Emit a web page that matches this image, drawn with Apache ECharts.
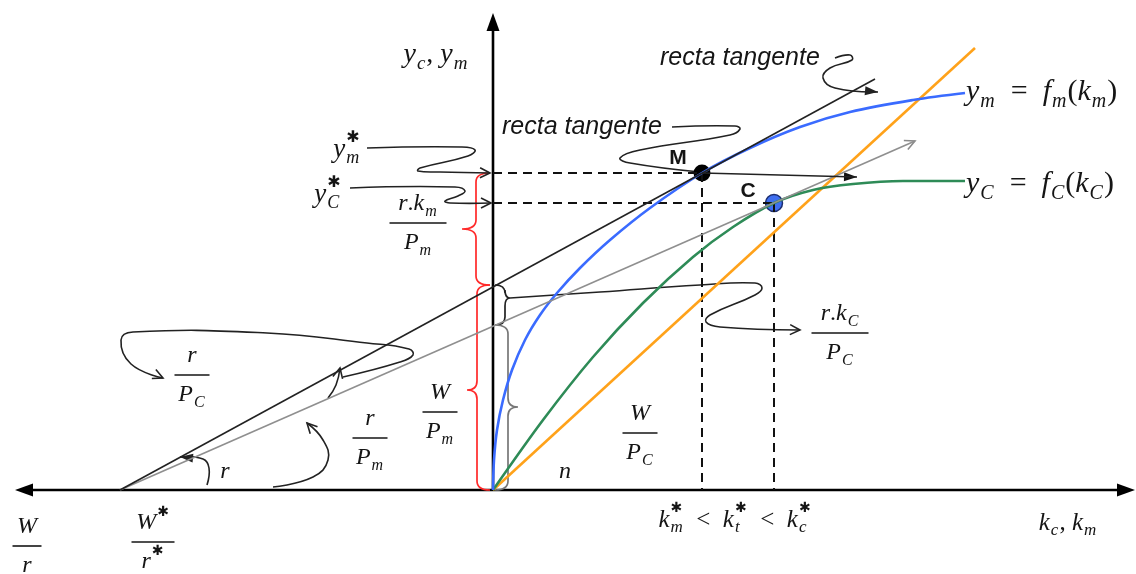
<!DOCTYPE html>
<html>
<head>
<meta charset="utf-8">
<script src="https://cdn.jsdelivr.net/npm/echarts@6/dist/echarts.min.js"></script>
<style>
  html, body { margin: 0; padding: 0; background: #fff; }
  #chart { width: 1136px; height: 574px; }
</style>
</head>
<body>
<div id="chart"></div>
<script>
// ---- model data (k on the horizontal axis, y on the vertical axis) ----
const fmCurve = [[0,0],[1,30],[4,60],[10,90],[19,120],[32,150],[47,175],[64,197],[87,222],[117,250],[157,282],[209,317],[257,342],[307,363],[357,378],[420,390],[472,397]];
const fcCurve = [[0,0],[50,70],[100,133],[150,187],[200,233],[240,263],[281,287],[320,300],[360,306],[410,309],[472,309]];
const costRay = [[0,0],[482,442]];
const wageIntercept = [-373,0];          // W*/r*
const optimumM = [209,317];
const optimumC = [281,287];
const tangentM = [wageIntercept,[382,411]];
const tangentC = [wageIntercept,[422,349]];
const mArrowEnd = [364,313];
const kExtent = [-478,642];
const yTop = 477;

// ---- annotation paths (data space) ----
const callouts = [
  {pts:[[-126,342],[-31,343],[-18,340],[-25,334],[-73,322],[-75,319],[-53,318],[-3,317]], head:'open', color:'#222'},
  {pts:[[-143,302],[-38,303],[-28,299],[-35,294],[-48,289],[-43,287],[-2,287]], head:'open', color:'#222'},
  {pts:[[179,363],[242,364],[247,361],[237,355],[147,340],[127,332],[137,327],[207,318]], head:null, color:'#222'},
  {pts:[[342,432],[357,435],[359,430],[337,422],[330,412],[342,402],[385,398]], head:'fill', color:'#222'},
  {pts:[[17,192],[107,198],[207,205],[262,207],[269,202],[262,195],[217,175],[213,168],[227,163],[307,160]], head:'open', color:'#222'},
  {pts:[[-165,92],[-157,105],[-153,122]], head:'open', color:'#222'},
  {pts:[[-150,113],[-93,128],[-80,135],[-84,141],[-126,147],[-226,157],[-360,158],[-372,150],[-362,126],[-330,112]], head:'open', color:'#222'},
  {pts:[[-286,5],[-284,22],[-290,31],[-313,33]], head:'fill', color:'#222'},
  {pts:[[-220,3],[-180,13],[-165,30],[-170,50],[-186,67]], head:'open', color:'#222'}
];
const braces = [
  {end:-3, y1:317, y2:205, spine:-17, tip:[-31,261], color:'#ff2a2a'},
  {end:-3, y1:205, y2:0,   spine:-16, tip:[-26,100], color:'#ff2a2a'},
  {end:2,  y1:205, y2:165, spine:12,  tip:[17,192],  color:'#222'},
  {end:2,  y1:165, y2:0,   spine:15,  tip:[25,83],   color:'#777'}
];

// ---- text (runs: i italic, u upright, s subscript, S star over subscript, p star superscript) ----
const labels = [
  {at:[-57,435], size:28, align:'center', runs:[['y','i'],['c','s'],[', ','u'],['y','i'],['m','s']]},
  {at:[-146,340], size:27, align:'center', runs:[['y','i'],['m','S']]},
  {at:[-165,295], size:27, align:'center', runs:[['y','i'],['C','S']]},
  {at:[473,398], size:30, align:'left', runs:[['y','i'],['m','s'],['  =  ','u'],['f','i'],['m','s'],['(','u'],['k','i'],['m','s'],[')','u']]},
  {at:[473,306], size:30, align:'left', runs:[['y','i'],['C','s'],['  =  ','u'],['f','i'],['C','s'],['(','u'],['k','i'],['C','s'],[')','u']]},
  {at:[-268,18], size:24, align:'center', runs:[['r','i']]},
  {at:[72,18], size:24, align:'center', runs:[['n','i']]},
  {at:[242,-30], size:25, align:'center', runs:[['k','i'],['m','S'],['  <  ','u'],['k','i'],['t','S'],['  <  ','u'],['k','i'],['c','S']]},
  {at:[575,-33], size:25, align:'center', runs:[['k','i'],['c','s'],[', ','u'],['k','i'],['m','s']]}
];
const fractions = [
  {at:[-75,267], size:24, bar:57, num:[['r','i'],['.','u'],['k','i'],['m','s']], den:[['P','i'],['m','s']]},
  {at:[347,157], size:24, bar:57, num:[['r','i'],['.','u'],['k','i'],['C','s']], den:[['P','i'],['C','s']]},
  {at:[-301,115], size:24, bar:35, num:[['r','i']], den:[['P','i'],['C','s']]},
  {at:[-53,78], size:24, bar:35, num:[['W','i']], den:[['P','i'],['m','s']]},
  {at:[-123,52], size:24, bar:35, num:[['r','i']], den:[['P','i'],['m','s']]},
  {at:[147,57], size:24, bar:35, num:[['W','i']], den:[['P','i'],['C','s']]},
  {at:[-466,-56], size:24, bar:29, num:[['W','i']], den:[['r','i']]},
  {at:[-340,-52], size:24, bar:43, num:[['W','i'],['','p']], den:[['r','i'],['','p']]}
];
const tangentNotes = [
  {at:[9,363], text:'recta tangente'},
  {at:[167,432], text:'recta tangente'}
];
const pointNotes = [
  {at:[185,332], text:'M'},
  {at:[255,299], text:'C'}
];

// ---- drawing helpers ----
const SERIF = "'Liberation Serif','DejaVu Serif',serif";
const SANS = "'Liberation Sans','DejaVu Sans',sans-serif";
const INK = '#151515';
const measureCtx = document.createElement('canvas').getContext('2d');
function measure(t, font) { measureCtx.font = font; return measureCtx.measureText(t).width; }

function layoutRuns(runs, size) {
  const out = [];
  let x = 0;
  const starFont = 'bold ' + Math.round(size * 0.58) + "px 'DejaVu Sans',sans-serif";
  for (const [t, k] of runs) {
    if (k === 'i' || k === 'u') {
      const font = (k === 'i' ? 'italic ' : '') + size + 'px ' + SERIF;
      out.push({t, font, x, dy: 0});
      x += measure(t, font);
    } else if (k === 's' || k === 'S') {
      const font = 'italic ' + Math.round(size * 0.68) + 'px ' + SERIF;
      const w = measure(t, font);
      out.push({t, font, x: x + 1, dy: size * 0.32});
      let adv = w + 2;
      if (k === 'S') {
        out.push({t: '\u2731', font: starFont, x: x + 1, dy: -size * 0.45});
        adv = Math.max(adv, measure('\u2731', starFont) + 2);
      }
      x += adv;
    } else if (k === 'p') {
      out.push({t: '\u2731', font: starFont, x: x + 1, dy: -size * 0.45});
      x += measure('\u2731', starFont) + 2;
    }
  }
  return {out, width: x};
}

function emitRuns(ch, runs, size, x0, yc, align) {
  const L = layoutRuns(runs, size);
  const sx = align === 'center' ? x0 - L.width / 2 : x0;
  for (const g of L.out) {
    ch.push({type: 'text', x: sx + g.x, y: yc + g.dy,
      style: {text: g.t, font: g.font, fill: INK, align: 'left', verticalAlign: 'middle'}});
  }
}

function arrowHead(p0, p1, kind, color) {
  const dx = p1[0] - p0[0], dy = p1[1] - p0[1];
  const d = Math.hypot(dx, dy) || 1;
  const ux = dx / d, uy = dy / d;
  const len = kind === 'open' ? 10 : 13, wid = kind === 'open' ? 10 : 9;
  const bx = p1[0] - ux * len, by = p1[1] - uy * len;
  const nx = -uy * wid / 2, ny = ux * wid / 2;
  const pts = [[bx + nx, by + ny], [p1[0], p1[1]], [bx - nx, by - ny]];
  if (kind === 'open') {
    return {type: 'polyline', shape: {points: pts}, style: {stroke: color, lineWidth: 1.6, fill: null}};
  }
  return {type: 'polygon', shape: {points: pts}, style: {fill: color}};
}

function axisArrow(api, from, to) {
  const a = api.coord(from), b = api.coord(to);
  const dx = b[0] - a[0], dy = b[1] - a[1];
  const d = Math.hypot(dx, dy);
  const ux = dx / d, uy = dy / d;
  const len = 18, wid = 13;
  const bx = b[0] - ux * len, by = b[1] - uy * len;
  return {type: 'polygon', shape: {points: [[bx - uy * wid / 2, by + ux * wid / 2], b, [bx + uy * wid / 2, by - ux * wid / 2]]},
    style: {fill: '#000'}};
}

function bracePath(api, b) {
  const top = api.coord([b.end, b.y1]);
  const bot = api.coord([b.end, b.y2]);
  const xs = api.coord([b.spine, 0])[0];
  const tip = api.coord(b.tip);
  const r = Math.min(9, (bot[1] - top[1]) / 5);
  const xe = top[0], y1 = top[1], y2 = bot[1], xt = tip[0], yt = tip[1];
  return 'M' + xe + ',' + y1 +
    ' Q' + xs + ',' + y1 + ' ' + xs + ',' + (y1 + r) +
    ' L' + xs + ',' + (yt - r) +
    ' Q' + xs + ',' + yt + ' ' + xt + ',' + yt +
    ' Q' + xs + ',' + yt + ' ' + xs + ',' + (yt + r) +
    ' L' + xs + ',' + (y2 - r) +
    ' Q' + xs + ',' + y2 + ' ' + xe + ',' + y2;
}

// one draw routine per overlay item
const overlay = [];
// axes with arrow tips
overlay.push(api => {
  const o = api.coord([0, 0]);
  const l = api.coord([kExtent[0], 0]), r = api.coord([kExtent[1], 0]), t = api.coord([0, yTop]);
  return {type: 'group', children: [
    {type: 'line', shape: {x1: l[0] + 10, y1: o[1], x2: r[0] - 10, y2: o[1]}, style: {stroke: '#000', lineWidth: 2.6}},
    {type: 'line', shape: {x1: o[0], y1: o[1], x2: t[0], y2: t[1] + 10}, style: {stroke: '#000', lineWidth: 2.6}},
    axisArrow(api, [0, 0], [kExtent[0], 0]),
    axisArrow(api, [0, 0], [kExtent[1], 0]),
    axisArrow(api, [0, 0], [0, yTop])
  ]};
});
// heads of the tangent rays
overlay.push(api => ({type: 'group', children: [
  arrowHead(api.coord(tangentC[0]), api.coord(tangentC[1]), 'open', '#8a8a8a'),
  arrowHead(api.coord(optimumM), api.coord(mArrowEnd), 'fill', '#111')
]}));
// braces
braces.forEach(b => overlay.push(api => ({type: 'path', shape: {pathData: bracePath(api, b)},
  style: {stroke: b.color, lineWidth: 1.7, fill: null}})));
// callout curves
callouts.forEach(c => overlay.push(api => {
  const pts = c.pts.map(p => api.coord(p));
  const ch = [{type: 'polyline', shape: {points: pts, smooth: 0.45}, style: {stroke: c.color, lineWidth: 1.6, fill: null}}];
  if (c.head) ch.push(arrowHead(pts[pts.length - 2], pts[pts.length - 1], c.head, c.color));
  return {type: 'group', children: ch};
}));
// optimum points
overlay.push(api => {
  const m = api.coord(optimumM), c = api.coord(optimumC);
  return {type: 'group', children: [
    {type: 'circle', shape: {cx: m[0], cy: m[1], r: 8.5}, style: {fill: '#000'}},
    {type: 'circle', shape: {cx: c[0], cy: c[1], r: 8.5}, style: {fill: '#3f6ff0', stroke: '#1d2f70', lineWidth: 1.5}}
  ]};
});
// text
overlay.push(api => {
  const ch = [];
  labels.forEach(l => { const p = api.coord(l.at); emitRuns(ch, l.runs, l.size, p[0], p[1], l.align); });
  fractions.forEach(f => {
    const p = api.coord(f.at);
    ch.push({type: 'line', shape: {x1: p[0] - f.bar / 2, y1: p[1], x2: p[0] + f.bar / 2, y2: p[1]}, style: {stroke: INK, lineWidth: 1.6}});
    emitRuns(ch, f.num, f.size, p[0], p[1] - f.size * 0.8, 'center');
    emitRuns(ch, f.den, f.size, p[0], p[1] + f.size * 0.82, 'center');
  });
  tangentNotes.forEach(n => { const p = api.coord(n.at);
    ch.push({type: 'text', x: p[0], y: p[1], style: {text: n.text, font: 'italic 25px ' + SANS, fill: INK, align: 'left', verticalAlign: 'middle'}}); });
  pointNotes.forEach(n => { const p = api.coord(n.at);
    ch.push({type: 'text', x: p[0], y: p[1], style: {text: n.text, font: 'bold 21px ' + SANS, fill: INK, align: 'center', verticalAlign: 'middle'}}); });
  return {type: 'group', children: ch};
});

const lineSeries = (data, color, width, extra) => Object.assign({
  type: 'line', data, showSymbol: false, symbol: 'none', silent: true, animation: false,
  lineStyle: {color, width}
}, extra || {});

const option = {
  animation: false,
  grid: {left: 0, right: 0, top: 0, bottom: 0},
  xAxis: {type: 'value', min: -493, max: 643, show: false},
  yAxis: {type: 'value', min: -84, max: 490, show: false},
  series: [
    lineSeries([[0, optimumM[1]], optimumM], '#111', 2, {lineStyle: {color: '#111', width: 2, type: [9, 6]}}),
    lineSeries([[0, optimumC[1]], optimumC], '#111', 2, {lineStyle: {color: '#111', width: 2, type: [9, 6]}}),
    lineSeries([optimumM, [optimumM[0], 0]], '#111', 2, {lineStyle: {color: '#111', width: 2, type: [9, 6]}}),
    lineSeries([optimumC, [optimumC[0], 0]], '#111', 2, {lineStyle: {color: '#111', width: 2, type: [9, 6]}}),
    lineSeries(costRay, '#ffa21a', 2.6),
    lineSeries(fcCurve, '#2e8b57', 2.6, {smooth: 0.3}),
    lineSeries(fmCurve, '#3a6bff', 2.6, {smooth: 0.35}),
    lineSeries(tangentC, '#8f8f8f', 1.6),
    lineSeries(tangentM, '#222', 1.6),
    lineSeries([optimumM, mArrowEnd], '#222', 1.6),
    {
      type: 'custom', silent: true, animation: false, clip: false,
      data: overlay.map((_, i) => [i, 0]),
      renderItem: (params, api) => overlay[params.dataIndex](api)
    }
  ]
};

const chart = echarts.init(document.getElementById('chart'));
chart.setOption(option);
</script>
</body>
</html>
